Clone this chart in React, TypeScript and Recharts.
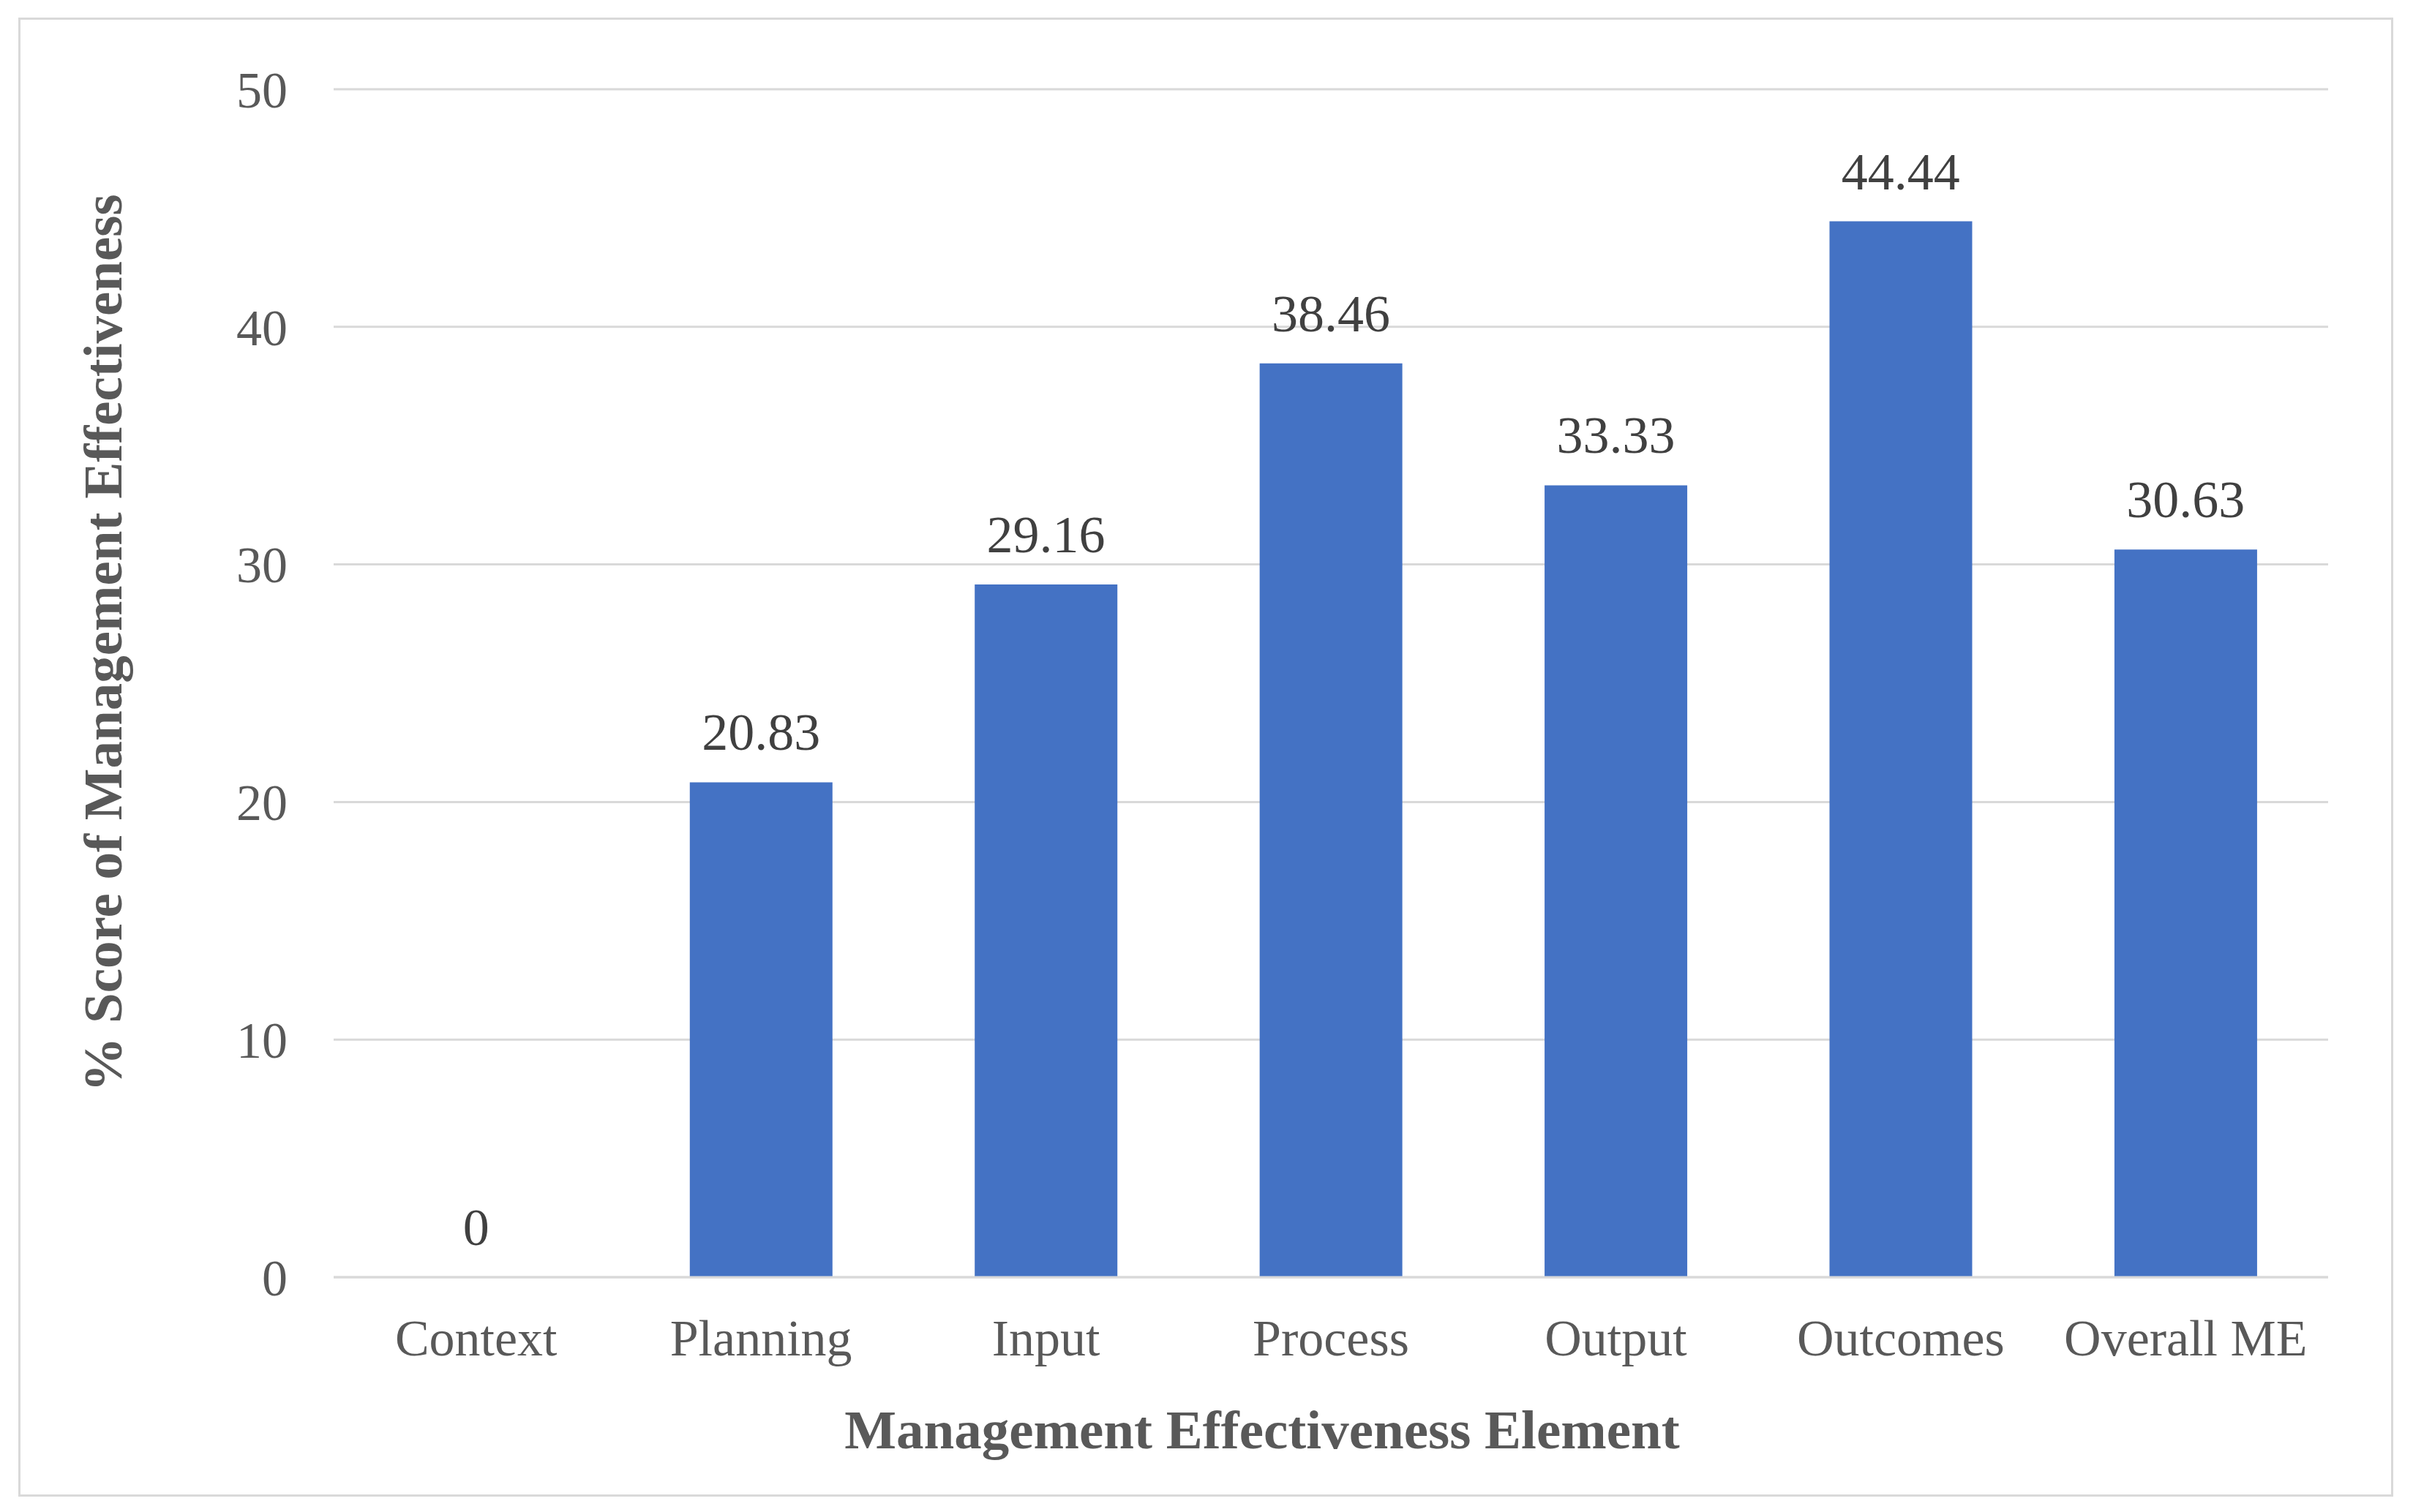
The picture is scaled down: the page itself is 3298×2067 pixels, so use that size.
import React from 'react';
import { ComposedChart, Bar, Line, XAxis, YAxis, CartesianGrid, LabelList, Label } from 'recharts';

const categories = ['Context', 'Planning', 'Input', 'Process', 'Output', 'Outcomes', 'Overall ME'];
const scores = [0, 20.83, 29.16, 38.46, 33.33, 44.44, 30.63];
const yTicks = [0, 10, 20, 30, 40, 50];

const data = categories.map((name, i) => ({ name, value: scores[i] }));

const FONT = '"Liberation Serif", "Times New Roman", serif';
const TEXT = '#595959';
const GRID = '#d9d9d9';

const YTitle = (props: any) => {
  const vb = props.viewBox || {};
  const x = vb.x - 90;
  const y = vb.y + vb.height / 2 - 55;
  return (
    <text
      x={x}
      y={y}
      transform={`rotate(-90, ${x}, ${y})`}
      textAnchor="middle"
      fontFamily={FONT}
      fontWeight="bold"
      fontSize={75}
      fill={TEXT}
    >
      % Score of Management Effectiveness
    </text>
  );
};

const XTitle = (props: any) => {
  const vb = props.viewBox || {};
  const x = vb.x + vb.width / 2 - 94;
  const y = vb.y + 234;
  return (
    <text x={x} y={y} textAnchor="middle" fontFamily={FONT} fontWeight="bold" fontSize={75} fill={TEXT}>
      Management Effectiveness Element
    </text>
  );
};

const App: React.FC = () => {
  return (
    <div style={{ position: 'absolute', left: 0, top: 0, width: 3298, height: 2067, background: '#fff' }}>
      <div
        style={{
          position: 'absolute',
          left: 25,
          top: 24,
          width: 3240,
          height: 2016,
          border: `3px solid ${GRID}`,
        }}
      />
      <div style={{ position: 'absolute', left: 0, top: 0 }}>
        <ComposedChart
          width={3298}
          height={2067}
          data={data}
          margin={{ top: 122, right: 116, bottom: 121, left: 256 }}
          barCategoryGap="25%"
        >
          <CartesianGrid vertical={false} stroke={GRID} strokeWidth={3} />
          <XAxis
            dataKey="name"
            height={200}
            axisLine={{ stroke: GRID, strokeWidth: 3 }}
            tickLine={false}
            tickSize={0}
            tickMargin={57}
            tick={{ fontFamily: FONT, fontSize: 70, fill: TEXT }}
          >
            <Label content={XTitle} />
          </XAxis>
          <YAxis
            width={200}
            domain={[0, 50]}
            ticks={yTicks}
            axisLine={false}
            tickLine={false}
            tickSize={0}
            tickMargin={63}
            tick={{ fontFamily: FONT, fontSize: 70, fill: TEXT }}
          >
            <Label content={YTitle} />
          </YAxis>
          <Bar dataKey="value" fill="#4472C4" isAnimationActive={false} />
          {/* invisible series that carries the data labels, so the zero value gets one too */}
          <Line
            dataKey="value"
            stroke="none"
            dot={false}
            activeDot={false}
            legendType="none"
            isAnimationActive={false}
          >
            <LabelList
              dataKey="value"
              position="top"
              offset={44}
              formatter={(v: any) => String(v)}
              fontFamily={FONT}
              fontSize={72}
              fill="#404040"
            />
          </Line>
        </ComposedChart>
      </div>
    </div>
  );
};

export default App;
